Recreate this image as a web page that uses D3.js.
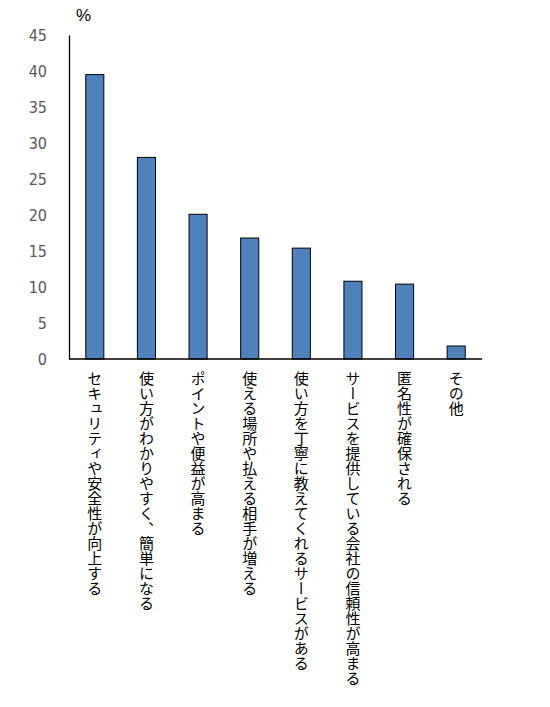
<!DOCTYPE html>
<html>
<head>
<meta charset="utf-8">
<script src="https://cdn.jsdelivr.net/npm/d3@7"></script>
<style>
  body { margin: 0; background: #fff; }
  svg { display: block; }
</style>
</head>
<body>
<svg id="chart"></svg>
<script>
// データ
const categories = [
  "セキュリティや安全性が向上する",
  "使い方がわかりやすく、簡単になる",
  "ポイントや便益が高まる",
  "使える場所や払える相手が増える",
  "使い方を丁寧に教えてくれるサービスがある",
  "サービスを提供している会社の信頼性が高まる",
  "匿名性が確保される",
  "その他"
];
const values = [39.5, 28.0, 20.1, 16.8, 15.4, 10.8, 10.4, 1.8];
const yTicks = [0, 5, 10, 15, 20, 25, 30, 35, 40, 45];
const unitLabel = "%";

const width = 550, height = 707;
const marginTop = 35, marginLeft = 69, axisRight = 482, baseY = 359;

const svg = d3.select("#chart")
  .attr("width", width)
  .attr("height", height);

const x = d3.scaleBand()
  .domain(categories)
  .range([marginLeft, axisRight])
  .paddingInner(0.65)
  .paddingOuter(0.325);

const y = d3.scaleLinear()
  .domain([0, 45])
  .range([baseY, marginTop]);

// 棒
svg.append("g")
  .selectAll("rect")
  .data(values)
  .join("rect")
  .attr("x", (d, i) => x(categories[i]))
  .attr("y", d => y(d))
  .attr("width", x.bandwidth())
  .attr("height", d => y(0) - y(d))
  .attr("fill", "#4f81bd")
  .attr("stroke", "#000")
  .attr("stroke-width", 1);

// y軸
const yAxis = svg.append("g")
  .attr("transform", `translate(${marginLeft},0)`)
  .call(d3.axisLeft(y).tickValues(yTicks).tickSize(0).tickPadding(22));
yAxis.select(".domain").attr("stroke", "#000").attr("stroke-width", 1.3);
yAxis.selectAll("text")
  .attr("fill", "#595959")
  .style("font-family", "'Liberation Sans Narrow', 'DejaVu Sans Condensed', sans-serif")
  .style("font-stretch", "condensed")
  .style("font-size", "16px");

// x軸
const xAxis = svg.append("g")
  .attr("transform", `translate(0,${baseY})`)
  .call(d3.axisBottom(x).tickSize(0).tickFormat(""));
xAxis.select(".domain")
  .attr("d", `M${marginLeft},0H${axisRight}`)
  .attr("stroke", "#000")
  .attr("stroke-width", 1.3);

// カテゴリラベル（縦書き）
svg.append("g")
  .selectAll("text")
  .data(categories)
  .join("text")
  .attr("x", d => x(d) + x.bandwidth() / 2)
  .attr("y", baseY + 12)
  .style("writing-mode", "vertical-rl")
  .style("font-family", "'Noto Sans CJK JP', sans-serif")
  .style("font-size", "15px")
  .attr("fill", "#000")
  .text(d => d);

// 単位
svg.append("text")
  .attr("x", 76)
  .attr("y", 21)
  .style("font-family", "'Liberation Sans', sans-serif")
  .style("font-size", "17px")
  .attr("fill", "#000")
  .text(unitLabel);
</script>
</body>
</html>
